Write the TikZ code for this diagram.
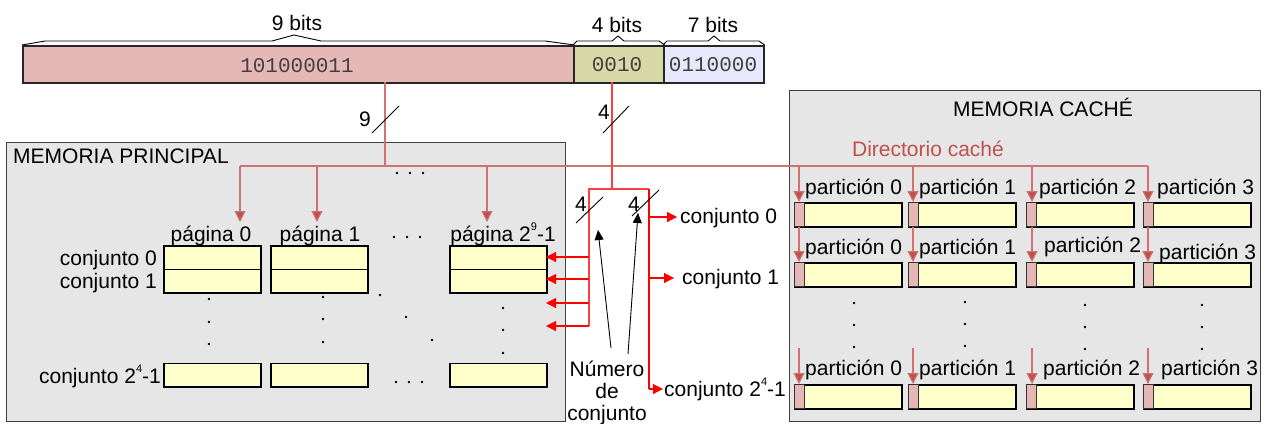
\documentclass[tikz,border=0pt]{standalone}
\usepackage{fontspec}
\setmainfont{Liberation Sans}
\setmonofont{Liberation Mono}
\usetikzlibrary{arrows.meta}
\definecolor{tagpink}{HTML}{E6B8B5}
\definecolor{setolive}{HTML}{D8D8A8}
\definecolor{wordblue}{HTML}{E8E8FC}
\definecolor{panelgray}{HTML}{E6E6E6}
\definecolor{cellyellow}{HTML}{FFFFCC}
\definecolor{dirred}{HTML}{C0504D}
\definecolor{dirline}{HTML}{D07272}
% small raised exponent
\newcommand{\tinysup}[1]{\raisebox{0.5em}{\fontsize{11}{11}\selectfont #1}}
\begin{document}
\begin{tikzpicture}[x=1pt,y=-1pt,
  txt/.style={font=\fontsize{21}{22}\selectfont, inner sep=0pt, anchor=base},
  bitval/.style={font=\ttfamily\fontsize{21}{24}\selectfont, text=black!75, inner sep=0pt, anchor=base},
  field/.style={draw=black!85, line width=1.6pt, anchor=north west, inner sep=0pt, minimum height=37pt},
  panel/.style={draw=black!75, line width=1.2pt, fill=panelgray, anchor=north west, inner sep=0pt},
  cell/.style={draw=black, line width=1.8pt, fill=cellyellow, anchor=north west, inner sep=0pt, minimum height=23.5pt},
  ccell/.style={draw=black, line width=1.8pt, fill=cellyellow, anchor=north west, inner sep=0pt, minimum height=24pt, minimum width=107pt},
  tagmark/.style={draw=black!80, line width=1pt, fill=tagpink, anchor=north west, inner sep=0pt, minimum height=24pt, minimum width=10pt},
  dirarrow/.style={draw=dirline, line width=1.1pt, -{Triangle[length=11pt,width=11pt,fill=dirred]}},
  dirwire/.style={draw=dirline, line width=1.1pt},
  setwire/.style={draw=red!75, line width=1.1pt},
  setarrow/.style={draw=red, line width=1.1pt, -{Triangle[length=10pt,width=10pt]}},
  pointer/.style={draw=black, line width=0.9pt, -{Triangle[length=10pt,width=9pt]}},
  slash/.style={draw=black, line width=0.9pt},
  brace/.style={draw=black, line width=0.9pt},
  dot/.style={fill=black}
]
\useasboundingbox (0,0) rectangle (1265,423);

% ---------- panels ----------
\node[panel, minimum width=559pt, minimum height=279pt] (mainmem) at (6,142) {};
\node[panel, minimum width=471pt, minimum height=331pt] (cachemem) at (789,90) {};

% ---------- address fields ----------
\node[field, fill=tagpink, minimum width=551pt] (tag) at (22,45) {};
\node[field, fill=setolive, minimum width=90pt] (set) at (573,45) {};
\node[field, fill=wordblue, minimum width=100pt] (word) at (663,45) {};
\node[bitval] (tagbits) at (297,72) {101000011};
\node[bitval] (setbits) at (617,71) {0010};
\node[bitval] (wordbits) at (713,71) {0110000};

% braces over the fields
\draw[brace] (tag.north west) -- (45,41) -- (272,41) -- (294,35) -- (321,41) -- (545,41) -- (tag.north east);
\draw[brace] (set.north west) -- (577,41) -- (612,41) -- (618,36) -- (624,41) -- (659,41) -- (set.north east);
\draw[brace] (word.north west) -- (667,41) -- (708,41) -- (714,36) -- (720,41) -- (759,41) -- (word.north east);
\node[txt] (tagw) at (297,30) {9 bits};
\node[txt] (setw) at (617,32) {4 bits};
\node[txt] (wordw) at (713,32) {7 bits};

% ---------- tag bus ----------
\coordinate (tagtap) at (385,82);
\coordinate (tagjoin) at (385,166);
\coordinate (busL) at (240,166);
\coordinate (busR) at (1148,166);
\draw[dirwire] (tagtap) -- (tagjoin);
\draw[dirwire] (busL) -- (busR);
\draw[slash] (372,133) -- (399,106);
\node[txt] (tagn) at (365,126) {9};
\foreach \x/\n in {240/a,317/b,487/c}{
  \coordinate (pg\n) at (\x,166);
  \draw[dirarrow] (pg\n) -- (\x,222);
}
\foreach \x in {397,410,423} \fill[dot] (\x,173) circle (1.4pt);

% ---------- main memory ----------
\node[txt, anchor=base west] (mptitle) at (13,163) {MEMORIA PRINCIPAL};
\node[txt] (p0) at (211,241) {página 0};
\node[txt] (p1) at (320,241) {página 1};
\node[txt] (plast) at (503,241) {página 2\tinysup{9}-1};
\foreach \x in {394,407,420} \fill[dot] (\x,237) circle (1.4pt);

\foreach \x/\c in {163/a,270/b,449/c}{
  \node[cell, minimum width=97pt] (\c0) at (\x,245) {};
  \node[cell, minimum width=97pt] (\c1) at (\x,268.5) {};
  \node[cell, minimum width=97pt] (\c15) at (\x,362.5) {};
}
\node[txt, anchor=base east] (cj0) at (157,265) {conjunto 0};
\node[txt, anchor=base east] (cj1) at (157,288) {conjunto 1};
\node[txt, anchor=base east] (cjl) at (161,383) {conjunto 2\tinysup{4}-1};

% vertical, diagonal and horizontal ellipses
\foreach \y in {299,322,344} \fill[dot] (209,\y) circle (1.4pt);
\foreach \y in {297,319,342} \fill[dot] (323,\y) circle (1.4pt);
\fill[dot] (380,295) circle (1.4pt);
\fill[dot] (406,317) circle (1.4pt);
\fill[dot] (432,340) circle (1.4pt);
\foreach \y in {308,330,353} \fill[dot] (503,\y) circle (1.4pt);
\foreach \x in {396,409,422} \fill[dot] (\x,382) circle (1.4pt);

% ---------- set selector ----------
\coordinate (settap) at (612,82);
\coordinate (setjoin) at (612,189);
\coordinate (selL) at (589,189);
\coordinate (selR) at (649,189);
\draw[setwire] (settap) -- (setjoin);
\draw[slash] (603,133) -- (629,106);
\node[txt] (setn) at (604,119) {4};
\draw[setwire] (589,326) -- (selL) -- (selR);
\draw[draw=red, line width=1.1pt] (selR) -- (649,389);
\draw[slash] (576,223) -- (603,197);
\node[txt] (seln1) at (581,211) {4};
\draw[slash] (632,216) -- (659,190);
\node[txt] (seln2) at (634,211) {4};

\foreach \y in {257,279,303,326} \draw[setarrow] (589,\y) -- (546,\y);

\draw[setarrow] (649,217) -- (677,217);
\draw[setarrow] (649,278) -- (674,278);
\draw[setarrow] (649,389) -- (663,389);
\node[txt, anchor=base west] (rs0) at (680,223) {conjunto 0};
\node[txt, anchor=base west] (rs1) at (682,284) {conjunto 1};
\node[txt, anchor=base west] (rsl) at (664,396) {conjunto 2\tinysup{4}-1};

\node[txt, align=center, anchor=base] (numconj) at (607,420) {Número\\de\\conjunto};
\coordinate (ptrA) at (611,348);
\coordinate (ptrB) at (628,354);
\draw[pointer] (ptrA) -- (598,230);
\draw[pointer] (ptrB) -- (638,213);

% ---------- cache memory ----------
\node[txt] (ctitle) at (1043,116) {MEMORIA CACHÉ};
\node[txt, text=dirred] (dirtitle) at (928,156) {Directorio caché};

\foreach \x/\ax/\k in {794/799/0,908/913/1,1026/1032/2,1143/1148/3}{
  \node[ccell] (r1c\k) at (\x,202) {};
  \node[tagmark] at (\x,202) {};
  \node[ccell] (r2c\k) at (\x,262) {};
  \node[tagmark] at (\x,262) {};
  \node[ccell] (r3c\k) at (\x,384) {};
  \node[tagmark] at (\x,384) {};
  \draw[dirarrow] (\ax,166) -- (\ax,202);
  \draw[dirarrow] (\ax,226.5) -- (\ax,262);
  \draw[dirarrow] (\ax,348) -- (\ax,384);
}

\node[txt, anchor=base west] at (805,194) {partición 0};
\node[txt, anchor=base west] at (919,194) {partición 1};
\node[txt, anchor=base west] at (1039,194) {partición 2};
\node[txt, anchor=base west] at (1157,194) {partición 3};
\node[txt, anchor=base west] at (805,254) {partición 0};
\node[txt, anchor=base west] at (919,254) {partición 1};
\node[txt, anchor=base west] at (1044,252) {partición 2};
\node[txt, anchor=base west] at (1159,259) {partición 3};
\node[txt, anchor=base west] at (805,375) {partición 0};
\node[txt, anchor=base west] at (919,375) {partición 1};
\node[txt, anchor=base west] at (1043,375) {partición 2};
\node[txt, anchor=base west] at (1161,375) {partición 3};

\foreach \y in {303,325,347} {\fill[dot] (854,\y) circle (1.4pt); \fill[dot] (965,\y-1) circle (1.4pt);}
\foreach \y in {305,327,349} {\fill[dot] (1085,\y) circle (1.4pt); \fill[dot] (1202,\y) circle (1.4pt);}
\end{tikzpicture}
\end{document}
